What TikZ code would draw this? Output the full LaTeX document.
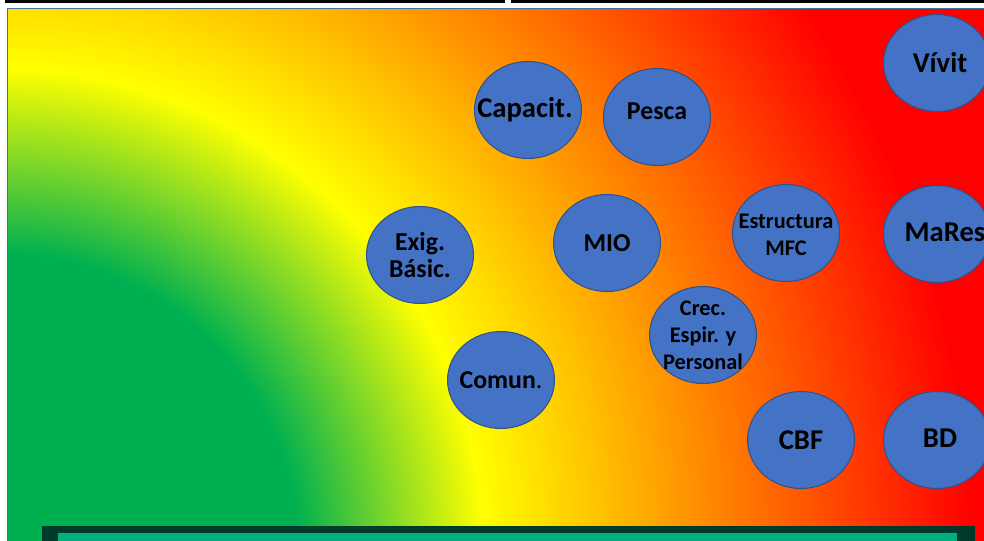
\documentclass[tikz,border=0pt]{standalone}
\usepackage{fontspec}
\setmainfont{Carlito}
\usepackage{xcolor}
\usepackage{tikz}
\usetikzlibrary{shapes.geometric}

\definecolor{bubblue}{HTML}{4472C4}
\definecolor{bubedge}{HTML}{2F528F}
\definecolor{heatgreen}{HTML}{00B050}
\definecolor{heatyellow}{HTML}{FFFF00}
\definecolor{heatred}{HTML}{FF0000}
\definecolor{framegreen}{HTML}{003A2B}
\definecolor{bargreen}{HTML}{00B07F}
\definecolor{frameline}{HTML}{41719C}

% green at the lower left corner, red at the far right
\pgfdeclareradialshading{heat}{\pgfpoint{0bp}{0bp}}{color(0bp)=(heatgreen); color(6.2bp)=(heatgreen); color(10.06bp)=(heatyellow); color(20.27bp)=(heatred); color(50bp)=(heatred)}

\begin{document}
\begin{tikzpicture}[x=0.02cm, y=-0.02cm,
    bubble/.style={ellipse, draw=bubedge, line width=0.6pt, fill=bubblue,
      minimum width=2.14cm, minimum height=1.94cm, inner sep=0pt},
    bubtext/.style={align=center, font=\bfseries\fontsize{14.7}{15.5}\selectfont},
    bigtext/.style={align=center, font=\bfseries\fontsize{16.3}{17}\selectfont},
    smalltext/.style={align=center, font=\bfseries\fontsize{12.7}{15.3}\selectfont}]
    \useasboundingbox (0,0) rectangle (984,541);

    % rules at the top
    \fill[black] (5,0) rectangle (505,3);
    \fill[black] (511,0) rectangle (984,3);

    % heat map
    \begin{scope}
        \clip (8,8) rectangle (984,541);
        \shade[shading=heat] (-1200,-649) rectangle (1200,1751);
    \end{scope}
    \draw[frameline, line width=0.6pt] (7.5,541) -- (7.5,8.5) -- (984,8.5);

    % bar at the bottom
    \fill[framegreen] (42,526) rectangle (975,541);
    \fill[bargreen] (58,533) rectangle (957,541);

    % bubbles
    \node[bubble] (capacit) at (528,110) {};
    \node[bigtext] (capacit-t) at (525,110) {Capacit.};

    \node[bubble] (pesca) at (657,117) {};
    \node[bubtext] (pesca-t) at (657,111) {Pesca};

    \node[bubble] (vivit) at (937,63) {};
    \node[bigtext] (vivit-t) at (940,63) {Vívit};

    \node[bubble] (exig) at (420,255) {};
    \node[bubtext] (exig-t) at (exig) {Exig.\\Básic.};

    \node[bubble] (mio) at (607,243) {};
    \node[bubtext] (mio-t) at (mio) {MIO};

    \node[bubble] (estruct) at (786,233) {};
    \node[smalltext] (estruct-t) at (786,235) {Estructura\\MFC};

    \node[bubble] (mares) at (937,234) {};
    \node[bigtext] (mares-t) at (945,232) {MaRes};

    \node[bubble] (crec) at (703,335) {};
    \node[smalltext] (crec-t) at (crec) {Crec.\\Espir. y\\Personal};

    \node[bubble] (comun) at (501,380) {};
    \node[bubtext] (comun-t) at (comun) {Comun{\mdseries.}};

    \node[bubble] (cbf) at (801,440) {};
    \node[bigtext] (cbf-t) at (cbf) {CBF};

    \node[bubble] (bd) at (937,440) {};
    \node[bigtext] (bd-t) at (940,438) {BD};
\end{tikzpicture}
\end{document}
